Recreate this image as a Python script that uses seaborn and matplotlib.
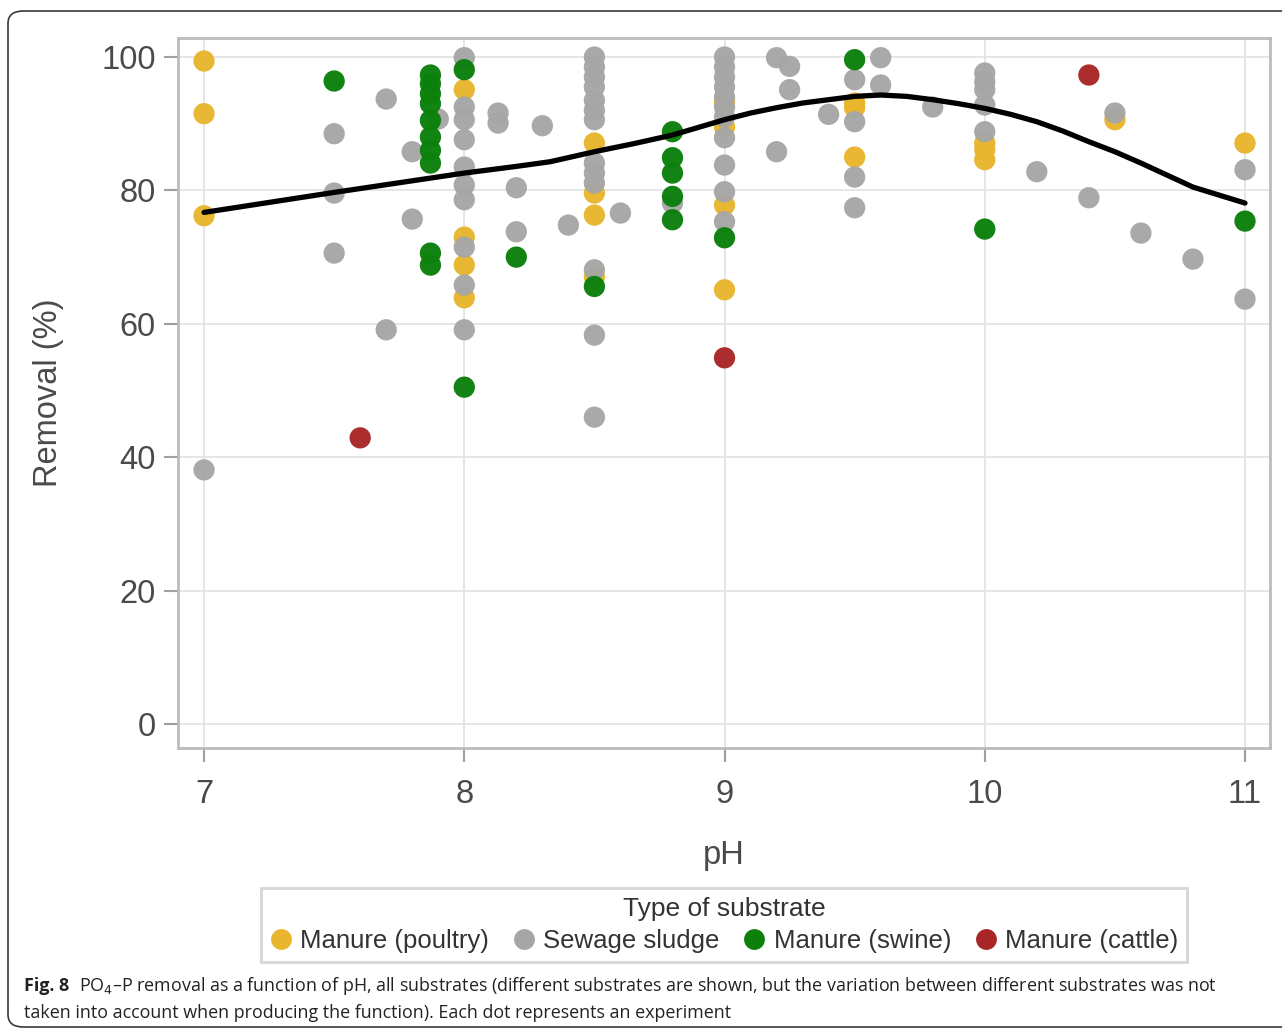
import matplotlib
matplotlib.use("Agg")
import matplotlib.pyplot as plt
from matplotlib import font_manager
from matplotlib.patches import FancyBboxPatch
import seaborn as sns
import pandas as pd

# --- data ---------------------------------------------------------------
poultry_ph = [7, 7, 7, 8, 8, 8, 8, 8.5, 8.5, 8.5, 8.5, 9, 9, 9, 9,
              9.5, 9.5, 9.5, 10, 10, 10, 10.5, 11]
poultry_rm = [99.4, 91.5, 76.2, 95.1, 73.0, 68.8, 63.9, 87.1, 79.6, 76.3, 67.0,
              93.3, 89.5, 77.8, 65.1, 93.1, 92.4, 85.0, 87.1, 86.1, 84.6, 90.6, 87.1]

sludge_ph = [7, 7.5, 7.5, 7.5, 7.7, 7.7, 7.8, 7.8, 7.9,
             8, 8, 8, 8, 8, 8, 8, 8, 8, 8,
             8.13, 8.13, 8.2, 8.2, 8.3, 8.4,
             8.5, 8.5, 8.5, 8.5, 8.5, 8.5, 8.5, 8.5, 8.5, 8.5, 8.5, 8.5, 8.5,
             8.6, 8.8,
             9, 9, 9, 9, 9, 9, 9, 9, 9, 9, 9,
             9.2, 9.2, 9.25, 9.25, 9.4,
             9.5, 9.5, 9.5, 9.5, 9.6, 9.6, 9.8,
             10, 10, 10, 10, 10, 10.2, 10.4, 10.5, 10.6, 10.8, 11, 11]
sludge_rm = [38.1, 88.5, 79.6, 70.6, 93.7, 59.1, 85.8, 75.7, 90.7,
             99.9, 92.5, 90.6, 87.6, 83.5, 80.8, 78.6, 71.5, 65.8, 59.1,
             91.6, 90.1, 80.4, 73.8, 89.7, 74.8,
             100, 98.5, 97.0, 95.5, 93.5, 92.0, 90.6, 84.1, 82.6, 81.1, 68.1, 58.3, 46.0,
             76.6, 78.1,
             100, 98.5, 97.0, 95.5, 94.0, 92.5, 91.0, 87.9, 83.8, 79.8, 75.3,
             99.9, 85.8, 98.6, 95.1, 91.4,
             96.6, 90.3, 82.0, 77.4, 99.9, 95.8, 92.5,
             97.6, 96.3, 95.1, 92.8, 88.8, 82.8, 78.9, 91.6, 73.6, 69.7, 83.1, 63.7]

swine_ph = [7.5, 7.87, 7.87, 7.87, 7.87, 7.87, 7.87, 7.87, 7.87, 7.87, 7.87,
            8, 8, 8.2, 8.5, 8.8, 8.8, 8.8, 8.8, 8.8, 9, 9.5, 10, 11]
swine_rm = [96.4, 97.3, 96.0, 94.5, 93.0, 90.5, 88.0, 86.0, 84.1, 70.6, 68.8,
            98.1, 50.5, 70.0, 65.6, 88.8, 84.9, 82.6, 79.1, 75.6, 72.9, 99.6, 74.2, 75.4]

cattle_ph = [7.6, 9, 10.4]
cattle_rm = [42.9, 54.9, 97.3]

# fitted curve (read at intervals along the black line)
fit_ph = [7, 7.5, 8, 8.2, 8.33, 8.5, 8.65, 8.8, 9, 9.1, 9.2, 9.3, 9.4, 9.5, 9.6,
          9.7, 9.8, 9.9, 10, 10.1, 10.2, 10.3, 10.4, 10.5, 10.6, 10.7, 10.8, 10.9, 11]
fit_rm = [76.7, 79.7, 82.6, 83.6, 84.3, 85.8, 87.0, 88.3, 90.6, 91.6, 92.4, 93.1, 93.6, 94.1, 94.3,
          94.1, 93.6, 93.0, 92.3, 91.4, 90.3, 88.9, 87.3, 85.8, 84.1, 82.3, 80.5, 79.3, 78.1]

groups = ["Manure (poultry)", "Sewage sludge", "Manure (swine)", "Manure (cattle)"]
colors = ["#E8B52C", "#A6A6A6", "#0B800B", "#A82626"]

df = pd.concat([
    pd.DataFrame({"pH": poultry_ph, "Removal": poultry_rm, "Type": groups[0]}),
    pd.DataFrame({"pH": sludge_ph, "Removal": sludge_rm, "Type": groups[1]}),
    pd.DataFrame({"pH": swine_ph, "Removal": swine_rm, "Type": groups[2]}),
    pd.DataFrame({"pH": cattle_ph, "Removal": cattle_rm, "Type": groups[3]}),
], ignore_index=True)
fit = pd.DataFrame({"pH": fit_ph, "Removal": fit_rm})

# --- style ----------------------------------------------------------------
sns.set_theme(style="whitegrid")
names = {f.name for f in font_manager.fontManager.ttflist}
main_font = "Liberation Sans" if "Liberation Sans" in names else "DejaVu Sans"
cap_font = "Open Sans" if "Open Sans" in names else main_font
plt.rcParams["font.family"] = [main_font, "DejaVu Sans"]

W, H = 1282, 1031
fig = plt.figure(figsize=(W / 100, H / 100), dpi=100)
ax = fig.add_axes([178 / W, 1 - 748 / H, (1270 - 178) / W, (748 - 38) / H])

sns.scatterplot(data=df, x="pH", y="Removal", hue="Type", hue_order=groups,
                palette=colors, s=235, linewidth=0, alpha=0.97, ax=ax, zorder=3)
sns.lineplot(data=fit, x="pH", y="Removal", color="black", linewidth=3.8,
             ax=ax, zorder=4, legend=False)

ax.set_xlim(6.9, 11.096)
ax.set_ylim(-3.6, 102.85)
ax.set_xticks([7, 8, 9, 10, 11])
ax.set_yticks([0, 20, 40, 60, 80, 100])
ax.grid(color="#E4E4E4", linewidth=1.3)
for s in ax.spines.values():
    s.set_color("#B8BCC0")
    s.set_linewidth(2)
ax.tick_params(axis="both", which="both", direction="out", length=10, width=1.5,
               color="#A0A0A0", labelsize=23.5, labelcolor="#4A4A4A", pad=6,
               bottom=True, left=True)
ax.tick_params(axis="x", pad=12)
ax.set_xlabel("pH", fontsize=23.5, color="#4A4A4A", labelpad=22)
ax.set_ylabel("Removal (%)", fontsize=23.5, color="#4A4A4A", labelpad=27)

ax.get_legend().remove()
handles = [plt.Line2D([], [], marker="o", linestyle="", markersize=15,
                      markerfacecolor=c, markeredgewidth=0) for c in colors]
leg = fig.legend(handles, groups, loc="center", bbox_to_anchor=(724 / W, 1 - 925 / H),
                 ncol=4, title="Type of substrate", fontsize=18.5, title_fontsize=19,
                 frameon=True, fancybox=False, edgecolor="#CCCCCC", handletextpad=0.3,
                 columnspacing=0.9, handlelength=0.9, borderpad=0.35, labelspacing=0.3)
leg.get_frame().set_linewidth(2)
for t in leg.get_texts():
    t.set_color("#333333")
leg.get_title().set_color("#333333")

# outer rounded border
border = FancyBboxPatch((8 / W, 1 - 1027 / H), (W + 20) / W, (1027 - 11) / H,
                        boxstyle="round,pad=0,rounding_size=0.012",
                        transform=fig.transFigure, fill=False,
                        edgecolor="#3A3A3A", linewidth=1.2)
fig.patches.append(border)

# caption
fig.canvas.draw()
r = fig.canvas.get_renderer()
cap_kw = dict(fontsize=12.9, family=[cap_font, "DejaVu Sans"], color="#222222", va="center")
t1 = fig.text(24 / W, 1 - 986 / H, "Fig. 8", fontweight="bold", **cap_kw)
bb = t1.get_window_extent(renderer=r)
fig.text((bb.x1 + 10) / W, 1 - 986 / H,
         "PO$_4$–P removal as a function of pH, all substrates (different substrates are shown, "
         "but the variation between different substrates was not", **cap_kw)
fig.text(24 / W, 1 - 1013 / H,
         "taken into account when producing the function). Each dot represents an experiment",
         **cap_kw)

fig.savefig("out.png", dpi=100)
